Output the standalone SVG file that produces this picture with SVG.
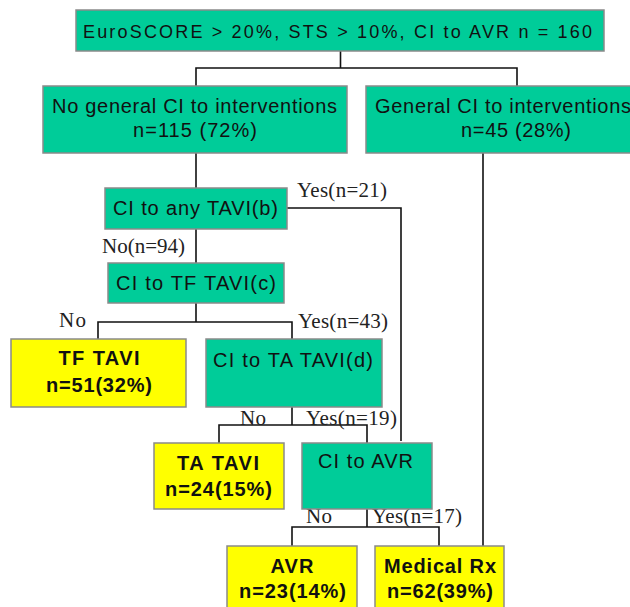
<svg xmlns="http://www.w3.org/2000/svg" width="630" height="607" viewBox="0 0 630 607">
<style>
.g{fill:#00CC99;stroke:#8a8a8a;stroke-width:1.5}
.y{fill:#FFFF00;stroke:#8a8a8a;stroke-width:1.5}
.t{font-family:"Liberation Sans",Arial,sans-serif;font-size:20px;fill:#111;text-anchor:middle}
.b{font-family:"Liberation Sans",Arial,sans-serif;font-size:20px;font-weight:bold;fill:#111;text-anchor:middle}
.l{font-family:"Liberation Serif","Times New Roman",serif;font-size:21px;fill:#222}
.c{fill:none;stroke:#111;stroke-width:1.6}
</style>
<rect width="630" height="607" fill="#fff"/>
<g id="connectors" class="c">
<path d="M340.5,51V68M196,86V68H517V86"/>
<path d="M196,153V188"/>
<path d="M483,153V546"/>
<path d="M287,208H401V441"/>
<path d="M196,229V263"/>
<path d="M196,303V322M98,339V322H292V339"/>
<path d="M292,407V425M219,443V425H367V443"/>
<path d="M367,509V527M292,546V527H439V546"/>
</g>
<g id="labels" class="l">
<text x="297" y="197" textLength="90">Yes(n=21)</text>
<text x="102" y="253" textLength="83">No(n=94)</text>
<text x="59" y="327" textLength="27">No</text>
<text x="298" y="328" textLength="90">Yes(n=43)</text>
<text x="240" y="425" textLength="26">No</text>
<text x="306" y="425" textLength="91">Yes(n=19)</text>
<text x="306" y="523" textLength="26">No</text>
<text x="372" y="523" textLength="90">Yes(n=17)</text>
</g>
<g id="top">
<rect class="g" x="76" y="10" width="528" height="41"/>
<text class="t" x="337.5" y="37.5" style="font-size:18px" textLength="509">EuroSCORE &gt; 20%, STS &gt; 10%,  CI to AVR n = 160</text>
</g>
<g id="noGeneral">
<rect class="g" x="43" y="86" width="304" height="67"/>
<text class="t" x="194.5" y="113" textLength="285">No general CI to interventions</text>
<text class="t" x="195" y="137" textLength="124">n=115 (72%)</text>
</g>
<g id="general">
<rect class="g" x="366" y="86" width="310" height="67"/>
<text class="t" x="375" y="113" style="text-anchor:start" textLength="256">General CI to interventions</text>
<text class="t" x="516" y="137" textLength="110">n=45 (28%)</text>
</g>
<g id="anyTAVI">
<rect class="g" x="105" y="188" width="182" height="41"/>
<text class="t" x="195.5" y="215" textLength="165">CI to any TAVI(b)</text>
</g>
<g id="tfCI">
<rect class="g" x="108" y="263" width="176" height="40"/>
<text class="t" x="196" y="290" textLength="160">CI to TF TAVI(c)</text>
</g>
<g id="tfTAVI">
<rect class="y" x="11" y="339" width="175" height="68"/>
<text class="b" x="99" y="365" textLength="81">TF TAVI</text>
<text class="b" x="99" y="392" textLength="106">n=51(32%)</text>
</g>
<g id="taCI">
<rect class="g" x="206" y="339" width="176" height="68"/>
<text class="t" x="293" y="367" textLength="160">CI to TA TAVI(d)</text>
</g>
<g id="taTAVI">
<rect class="y" x="154" y="443" width="130" height="66"/>
<text class="b" x="218" y="470" textLength="82">TA TAVI</text>
<text class="b" x="218.5" y="496" textLength="107">n=24(15%)</text>
</g>
<g id="avrCI">
<rect class="g" x="302" y="443" width="130" height="66"/>
<text class="t" x="365.5" y="468" textLength="95">CI to AVR</text>
</g>
<g id="avr">
<rect class="y" x="227" y="546" width="130" height="70"/>
<text class="b" x="292" y="573" textLength="43">AVR</text>
<text class="b" x="292.5" y="598" textLength="107">n=23(14%)</text>
</g>
<g id="medRx">
<rect class="y" x="375" y="546" width="129" height="70"/>
<text class="b" x="440" y="573" textLength="112">Medical Rx</text>
<text class="b" x="440" y="598" textLength="106">n=62(39%)</text>
</g>
</svg>
